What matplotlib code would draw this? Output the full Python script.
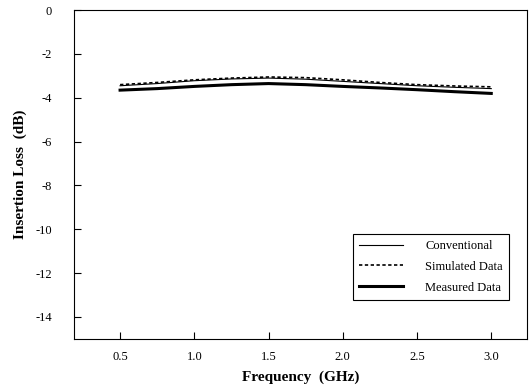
import numpy as np
import matplotlib
matplotlib.use("Agg")
import matplotlib.pyplot as plt

plt.rcParams['font.family'] = ['Liberation Serif', 'DejaVu Serif']
plt.rcParams['axes.unicode_minus'] = False

freq = [0.5, 0.75, 1.0, 1.25, 1.5, 1.75, 2.0, 2.25, 2.5, 2.75, 3.0]
conventional = [-3.45, -3.35, -3.22, -3.14, -3.10, -3.15, -3.25, -3.35, -3.45, -3.52, -3.58]
simulated = [-3.40, -3.30, -3.18, -3.10, -3.05, -3.08, -3.18, -3.30, -3.40, -3.46, -3.50]
measured = [-3.65, -3.58, -3.48, -3.40, -3.35, -3.40, -3.48, -3.55, -3.63, -3.72, -3.80]

fig = plt.figure(figsize=(5.29, 3.90), dpi=100)
ax = fig.add_axes([0.14, 0.131, 0.856, 0.843])

ax.plot(freq, conventional, color='black', lw=0.8, label='Conventional')
ax.plot(freq, simulated, color='black', lw=1.2, ls=(0, (2, 1.5)), label='Simulated Data')
ax.plot(freq, measured, color='black', lw=2.2, label='Measured Data')

ax.set_xlim(0.19, 3.24)
ax.set_ylim(-15, 0)
ax.set_xticks([0.5, 1.0, 1.5, 2.0, 2.5, 3.0])
ax.set_yticks([0, -2, -4, -6, -8, -10, -12, -14])
ax.tick_params(direction='in', length=5, labelsize=9)
ax.tick_params(axis='y', pad=16)
ax.tick_params(axis='x', pad=9)
ax.set_xlabel('Frequency  (GHz)', fontsize=11, fontweight='bold', labelpad=5)
ax.set_ylabel('Insertion Loss  (dB)', fontsize=11, fontweight='bold', labelpad=6)

leg = ax.legend(loc='lower right', bbox_to_anchor=(0.975, 0.1), fontsize=9,
                fancybox=False, framealpha=1, edgecolor='black',
                handlelength=3.5, labelspacing=0.7, borderpad=0.5, handletextpad=1.8)
leg.get_frame().set_linewidth(0.8)

fig.savefig('out.png', dpi=100)
